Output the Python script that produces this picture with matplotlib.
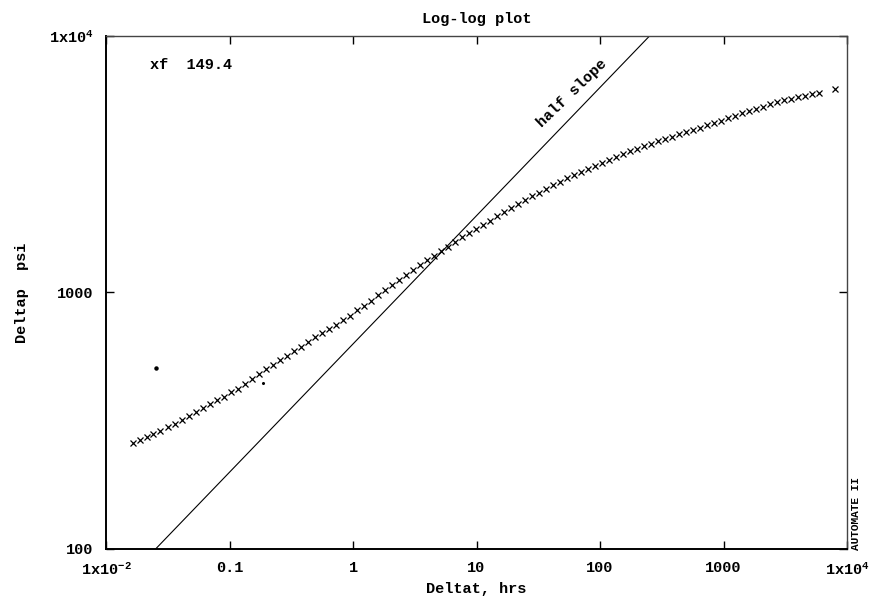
#!/usr/bin/env python3

import matplotlib
matplotlib.use('Agg')
import matplotlib.pyplot as plt

FONT = 'Liberation Mono'

# elapsed time (hrs) and pressure change (psi)
delta_t = [0.01654, 0.01885, 0.02148, 0.02402, 0.02736, 0.03177, 0.0362, 0.04125, 0.0470, 0.05354,
           0.0610, 0.0695, 0.0792, 0.0903, 0.1028, 0.1172, 0.1335, 0.1521, 0.1733, 0.1975,
           0.2250, 0.2563, 0.2922, 0.3328, 0.3792, 0.4321, 0.4924, 0.5610, 0.6393, 0.7283,
           0.8299, 0.9456, 1.077, 1.227, 1.399, 1.594, 1.816, 2.069, 2.357, 2.686,
           3.060, 3.487, 3.973, 4.527, 5.158, 5.877, 6.697, 7.628, 8.693, 9.906,
           11.29, 12.86, 14.65, 16.70, 19.02, 21.68, 24.70, 28.13, 32.06, 36.53,
           41.63, 47.45, 54.05, 61.58, 70.17, 79.96, 91.10, 103.8, 118.3, 134.8,
           153.6, 175.0, 199.3, 227.1, 258.8, 294.9, 336.0, 382.7, 436.1, 496.9,
           566.2, 645.2, 735.0, 837.5, 954.3, 1087, 1239, 1411, 1608, 1833,
           2088, 2379, 2711, 3089, 3520, 4011, 4570, 5207, 5933, 7996]

delta_p = [259, 266, 273, 280, 288, 298, 307, 318, 330, 342,
           355, 368, 381, 393, 408, 422, 440, 458, 481, 501,
           522, 543, 565, 589, 613, 641, 668, 692, 721, 750,
           781, 813, 851, 886, 927, 974, 1018, 1065, 1114, 1165,
           1218, 1274, 1333, 1388, 1445, 1504, 1573, 1638, 1698, 1760,
           1833, 1900, 1979, 2051, 2126, 2213, 2294, 2367, 2443, 2532,
           2613, 2697, 2783, 2859, 2950, 3030, 3113, 3198, 3285, 3375,
           3451, 3546, 3626, 3708, 3792, 3878, 3966, 4038, 4130, 4205,
           4300, 4378, 4477, 4558, 4662, 4768, 4854, 4987, 5077, 5192,
           5286, 5406, 5504, 5604, 5680, 5757, 5835, 5914, 5994, 6185]

# stray dots
stray_t = [0.0254, 0.1866]
stray_p = [508, 444]

# half slope reference line end points
half_t = [0.0252, 252]
half_p = [100, 10000]

x_ticks = [0.01, 0.1, 1, 10, 100, 1000, 10000]
x_labels = ['1x10$^{-2}$', '0.1', '1', '10', '100', '1000', '1x10$^{4}$']
y_ticks = [100, 1000, 10000]
y_labels = ['100', '1000', '1x10$^{4}$']

xf_value = 149.4

plt.rcParams['font.family'] = FONT
plt.rcParams['font.weight'] = 'bold'
plt.rcParams['mathtext.default'] = 'regular'

fig = plt.figure(figsize=(8.8, 6.05), dpi=100)
ax = fig.add_axes([0.1205, 0.0926, 0.842, 0.848])

ax.plot(delta_t, delta_p, 'x', color='black', markersize=4.5, markeredgewidth=0.9)
ax.plot(stray_t[:1], stray_p[:1], 'o', color='black', markersize=2.2)
ax.plot(stray_t[1:], stray_p[1:], 'o', color='black', markersize=1.2)
ax.plot(half_t, half_p, '-', color='black', linewidth=0.8)

ax.set_xscale('log')
ax.set_yscale('log')
ax.set_xlim(0.01, 10000)
ax.set_ylim(100, 10000)

ax.set_xticks(x_ticks)
ax.set_xticklabels(x_labels)
ax.set_yticks(y_ticks)
ax.set_yticklabels(y_labels)
ax.minorticks_off()
ax.tick_params(which='major', direction='in', length=6, width=1,
               top=True, right=True, labelsize=11, pad=9)

for side in ['left', 'bottom']:
  ax.spines[side].set_linewidth(1.4)
for side in ['top', 'right']:
  ax.spines[side].set_linewidth(1.0)
  ax.spines[side].set_color('#444444')

ax.set_title('Log-log plot', fontsize=11, fontweight='bold', pad=9)
ax.set_xlabel('Deltat, hrs', fontsize=11, fontweight='bold', labelpad=3)
ax.set_ylabel('Deltap  psi', fontsize=11, fontweight='bold', labelpad=14)

ax.text(0.059, 0.943, 'xf  {}'.format(xf_value), transform=ax.transAxes,
        ha='left', va='center', fontsize=11, fontweight='bold')
ax.text(59.3, 6000, 'half slope', rotation=44, ha='center', va='center',
        rotation_mode='anchor', fontsize=11, fontweight='bold')

fig.text(0.973, 0.091, 'AUTOMATE II', rotation=90, ha='center', va='bottom',
         fontsize=8, fontweight='bold')

fig.savefig('out.png', dpi=100)
